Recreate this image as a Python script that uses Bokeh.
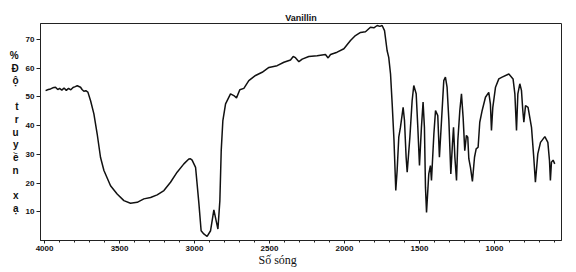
from bokeh.plotting import figure
from bokeh.models import Range1d, FixedTicker, Title
from bokeh.embed import file_html
from bokeh.resources import INLINE

title_text = "Vanillin"
x_label = "Số sóng"
y_label_chars = ["%", "Đ", "ộ", "", "t", "r", "u", "y", "ề", "n", "", "x", "ạ"]

x_ticks = [1000, 1500, 2000, 2500, 3000, 3500, 4000]
y_ticks = [10, 20, 30, 40, 50, 60, 70]

wavenumber = [
    3993, 3975, 3960, 3945, 3927, 3912, 3900, 3885, 3870, 3855, 3840, 3825, 3810, 3795,
    3782, 3760, 3750, 3738, 3725, 3711, 3693, 3671, 3649, 3627, 3604, 3560, 3516, 3471,
    3427, 3382, 3338, 3293, 3249, 3204, 3160, 3116, 3071, 3038, 3027, 3016, 2993, 2971,
    2956, 2938, 2916, 2893, 2871, 2856, 2844, 2831, 2822, 2811, 2793, 2760, 2738, 2720,
    2698, 2671, 2638, 2593, 2549, 2504, 2449, 2404, 2360, 2342, 2327, 2304, 2282, 2238,
    2182, 2127, 2109, 2093, 2049, 2004, 1960, 1927, 1893, 1860, 1827, 1804, 1782, 1764,
    1749, 1733, 1716, 1705, 1693, 1682, 1670, 1658, 1649, 1638, 1627, 1609, 1600, 1589,
    1582, 1564, 1549, 1538, 1522, 1511, 1500, 1487, 1476, 1467, 1460, 1453, 1438, 1427,
    1420, 1404, 1393, 1378, 1367, 1353, 1338, 1327, 1316, 1304, 1291, 1280, 1273, 1264,
    1253, 1244, 1231, 1220, 1209, 1198, 1187, 1178, 1171, 1160, 1147, 1133, 1122, 1109,
    1098, 1082, 1060, 1038, 1027, 1020, 1011, 993, 971, 949, 904, 876, 864, 853,
    844, 831, 820, 811, 804, 793, 776, 753, 738, 727, 711, 693, 664, 644,
    633, 627, 620, 609, 598,
]
transmittance = [
    52.2, 52.6, 52.8, 53.2, 53.4, 52.6, 53.0, 52.4, 53.1, 52.3, 53.0, 52.5, 53.3, 53.6,
    53.9, 53.4, 52.6, 52.0, 52.2, 51.7, 48.7, 44.1, 37.1, 29.0, 24.4, 19.1, 16.2, 13.9,
    13.0, 13.3, 14.5, 15.0, 15.9, 17.4, 20.3, 23.8, 26.7, 28.4, 28.5, 28.0, 25.5, 13.0,
    3.4, 2.3, 1.4, 3.4, 10.7, 6.9, 4.0, 13.9, 31.3, 41.8, 47.6, 51.1, 50.5, 49.7,
    52.5, 53.0, 55.7, 57.5, 58.6, 60.3, 60.9, 62.1, 62.9, 64.1, 63.7, 62.3, 63.2, 64.1,
    64.4, 64.8, 63.6, 64.8, 65.6, 66.8, 69.7, 71.4, 72.5, 72.7, 74.3, 74.1, 74.9, 74.6,
    74.9, 73.1, 66.2, 63.8, 58.0, 47.6, 35.0, 17.4, 24.4, 36.0, 39.4, 46.4, 41.8, 29.0,
    23.8, 36.0, 48.7, 54.0, 51.1, 39.4, 26.1, 39.4, 48.2, 39.4, 18.5, 9.8, 23.2, 26.1,
    20.9, 37.1, 45.3, 43.5, 29.0, 41.8, 55.7, 56.9, 53.4, 41.8, 23.2, 33.7, 39.4, 29.0,
    20.9, 35.0, 45.3, 51.1, 42.9, 31.3, 36.6, 36.0, 28.5, 25.5, 20.6, 29.0, 31.9, 32.5,
    41.2, 45.3, 49.9, 51.6, 47.5, 38.3, 46.4, 53.4, 56.3, 56.9, 58.0, 56.3, 51.1, 38.3,
    51.1, 54.6, 52.3, 45.3, 41.2, 47.0, 46.4, 39.4, 29.0, 20.3, 30.2, 34.2, 36.2, 34.2,
    27.8, 20.9, 27.3, 28.0, 26.7,
]

p = figure(width=576, height=272, output_backend="svg", toolbar_location=None,
           x_range=Range1d(4027, 553), y_range=Range1d(0, 75.6),
           min_border_left=40, min_border_right=15, min_border_top=23,
           min_border_bottom=32)
p.background_fill_color = "white"
p.border_fill_color = "white"
p.outline_line_color = "#222222"
p.outline_line_width = 1
p.xgrid.visible = False
p.ygrid.visible = False

p.title.text = title_text
p.title.align = "center"
p.title.text_font = "Liberation Sans"
p.title.text_font_style = "bold"
p.title.text_font_size = "9px"
p.title.text_color = "#111111"
p.title.standoff = 2

p.xaxis.ticker = FixedTicker(ticks=x_ticks, minor_ticks=list(range(600, 4001, 100)))
p.yaxis.ticker = FixedTicker(ticks=y_ticks)
for ax in (p.xaxis, p.yaxis):
    ax.axis_line_color = "#222222"
    ax.major_tick_line_color = "#222222"
    ax.major_tick_in = 0
    ax.major_label_text_font = "Liberation Sans"
    ax.major_label_text_font_style = "bold"
    ax.major_label_text_font_size = "8px"
    ax.major_label_text_color = "#111111"
p.xaxis.major_tick_out = 3
p.xaxis.minor_tick_out = 2
p.xaxis.minor_tick_in = 0
p.xaxis.minor_tick_line_color = "#222222"
p.xaxis.major_label_standoff = 2
p.yaxis.major_tick_out = 4
p.yaxis.minor_tick_line_color = None
p.yaxis.major_label_standoff = 2

# vertical stacked y label, one character per line
p.yaxis.axis_label = "\n".join(c if c else " " for c in y_label_chars)
p.yaxis.axis_label_orientation = "horizontal"
p.yaxis.axis_label_text_font = "Liberation Sans"
p.yaxis.axis_label_text_font_style = "bold"
p.yaxis.axis_label_text_font_size = "10px"
p.yaxis.axis_label_text_line_height = 1.16
p.yaxis.axis_label_text_color = "#111111"
p.yaxis.axis_label_standoff = 4

p.add_layout(Title(text=x_label, align="left", offset=218, standoff=-6,
                   text_font="Liberation Serif", text_font_style="normal",
                   text_font_size="12px", text_color="#111111"), "below")

p.line(wavenumber, transmittance, line_color="#111111", line_width=1.5)

open("out.html", "w").write(file_html(p, INLINE))
